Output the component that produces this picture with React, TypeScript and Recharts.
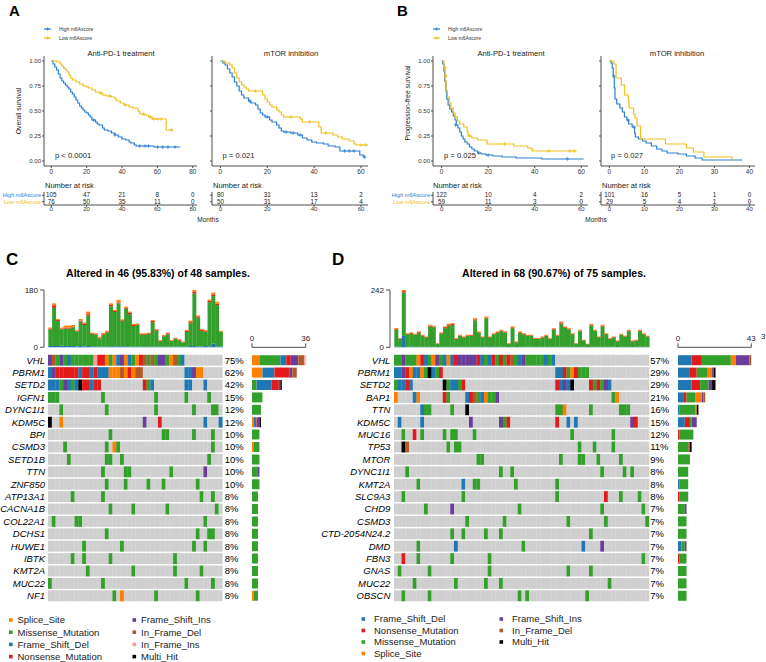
import React from "react";
import { Bar, BarChart, Cell, ComposedChart, Line, Scatter, XAxis, YAxis } from "recharts";

const BLUE = "#2B80D3";
const GOLD = "#EEC01C";
const GRAY = "#CFCFCF";
const AXIS = "#4d4d4d";
const FONT = '"Liberation Sans", Arial, Helvetica, sans-serif';

// variant classes (maftools colours)
const VC: Record<string, { name: string; color: string }> = {
  s: { name: "Splice_Site", color: "#FF7F00" },
  m: { name: "Missense_Mutation", color: "#33A02C" },
  d: { name: "Frame_Shift_Del", color: "#1F78B4" },
  n: { name: "Nonsense_Mutation", color: "#E31A1C" },
  i: { name: "Frame_Shift_Ins", color: "#6A3D9A" },
  f: { name: "In_Frame_Del", color: "#B15928" },
  p: { name: "In_Frame_Ins", color: "#FB9A99" },
  x: { name: "Multi_Hit", color: "#000000" },
};

// ---------- survival curves [month, survival] ----------
const groups = ["High m6Ascore", "Low m6Ascore"];

const osPd1High = [[0,1],[1,0.97],[2,0.94],[3,0.91],[4,0.87],[5,0.83],[6,0.8],[7,0.78],[8,0.76],[9,0.74],[10,0.72],[11,0.69],[12,0.67],[13,0.64],[14,0.61],[15,0.58],[16,0.55],[17,0.53],[18,0.51],[19,0.49],[20,0.48],[21,0.46],[22,0.44],[23,0.41],[25,0.39],[26,0.37],[27,0.36],[29,0.33],[30,0.31],[32,0.3],[34,0.28],[36,0.26],[38,0.24],[40,0.22],[42,0.21],[44,0.19],[45,0.18],[47,0.16],[48,0.15],[58,0.14],[73,0.14]];
const osPd1HighCens = [[24,0.41],[36,0.26],[50,0.15],[53,0.15],[55,0.15],[60,0.14],[63,0.14],[66,0.14],[70,0.14]];
const osPd1Low = [[0,1],[3,0.99],[5,0.97],[6,0.95],[7,0.93],[8,0.91],[9,0.89],[10,0.86],[11,0.83],[12,0.81],[14,0.79],[16,0.77],[18,0.75],[20,0.74],[21,0.73],[23,0.71],[25,0.69],[27,0.68],[29,0.66],[31,0.65],[34,0.64],[36,0.62],[37,0.6],[39,0.58],[41,0.56],[44,0.54],[46,0.53],[49,0.5],[50,0.47],[53,0.46],[55,0.44],[57,0.42],[65,0.31],[69,0.31]];
const osPd1LowCens = [[28,0.68],[33,0.65],[42,0.56],[52,0.47],[56,0.44],[58,0.42],[60,0.42],[62,0.42],[68,0.31]];

const osMtorHigh = [[0,1],[1,0.98],[2,0.96],[3,0.92],[4,0.88],[5,0.84],[6,0.79],[7,0.75],[8,0.7],[9,0.66],[10,0.63],[12,0.6],[13,0.58],[15,0.56],[16,0.52],[17,0.48],[18,0.46],[19,0.44],[21,0.41],[22,0.39],[24,0.36],[25,0.33],[26,0.3],[27,0.29],[30,0.28],[33,0.26],[35,0.23],[37,0.21],[39,0.19],[41,0.18],[44,0.17],[46,0.15],[49,0.14],[51,0.1],[59,0.1],[59.5,0.06],[61,0.04],[62,0.04]];
const osMtorHighCens = [[12.5,0.6],[20,0.44],[28,0.29],[31,0.28],[34,0.26],[53,0.1],[55,0.1],[57,0.1],[61.5,0.04]];
const osMtorLow = [[0,1],[2,0.98],[4,0.96],[5,0.93],[6,0.88],[7,0.83],[8,0.79],[9,0.76],[10,0.74],[11,0.72],[12,0.7],[18,0.66],[19,0.62],[20,0.59],[21,0.56],[22,0.54],[24,0.51],[25,0.49],[26,0.46],[27,0.44],[34,0.42],[35,0.39],[42,0.34],[43,0.28],[48,0.26],[50,0.24],[52,0.22],[55,0.2],[57,0.17],[58,0.16],[63.5,0.16]];
const osMtorLowCens = [[15,0.7],[30,0.44],[38,0.39],[45,0.28],[60,0.16],[62,0.16]];

const pfsPd1High = [[0,1],[0.5,0.97],[1,0.9],[1.3,0.8],[1.8,0.7],[2.2,0.62],[2.8,0.56],[3.5,0.52],[4.3,0.49],[5,0.45],[5.8,0.41],[6.3,0.36],[7,0.33],[7.8,0.29],[8.5,0.25],[9.2,0.22],[10,0.19],[11,0.17],[12,0.14],[13,0.12],[14,0.1],[15.5,0.08],[17,0.07],[19,0.06],[22,0.05],[26,0.04],[32,0.03],[40,0.03],[43,0.02],[61,0.02]];
const pfsPd1HighCens = [[6,0.36],[16,0.08],[20,0.06],[54,0.02]];
const pfsPd1Low = [[0,1],[1,0.93],[1.5,0.8],[1.9,0.7],[2.5,0.64],[3.3,0.58],[4,0.53],[5,0.48],[5.8,0.44],[6.8,0.4],[7.7,0.37],[9.5,0.34],[11,0.29],[11.4,0.25],[13,0.23],[15.5,0.21],[19.5,0.17],[30,0.17],[31,0.15],[37,0.13],[38.5,0.12],[39,0.1],[58,0.1]];
const pfsPd1LowCens = [[1.5,0.93],[2,0.85],[6,0.44],[12,0.25],[27,0.17],[46,0.1],[55,0.1],[57,0.1]];

const pfsMtorHigh = [[0,1],[0.5,0.98],[0.8,0.93],[1.1,0.85],[1.4,0.73],[1.6,0.62],[2.1,0.57],[3,0.53],[3.7,0.49],[4.3,0.44],[5,0.41],[5.5,0.37],[6.5,0.34],[7.2,0.28],[7.4,0.24],[8.3,0.22],[9.5,0.2],[10.5,0.18],[12,0.15],[13.5,0.12],[15,0.1],[16.5,0.08],[19.5,0.07],[22,0.05],[24.5,0.03],[26.5,0.01],[38,0.01]];
const pfsMtorHighCens = [[1.2,0.85],[5.3,0.41],[7,0.34]];
const pfsMtorLow = [[0,1],[1.3,0.97],[1.9,0.83],[3.4,0.76],[4.3,0.66],[5.4,0.6],[5.6,0.53],[6.9,0.47],[7.3,0.43],[7.9,0.35],[8.9,0.22],[16,0.17],[22,0.13],[24,0.09],[27,0.04],[35,0]];
const pfsMtorLowCens: number[][] = [];

// numbers at risk
const osPd1RiskT = [0, 20, 40, 60, 80];
const osPd1RiskHigh = [105, 47, 21, 8, 0];
const osPd1RiskLow = [76, 50, 35, 11, 0];
const osMtorRiskT = [0, 20, 40, 60];
const osMtorRiskHigh = [80, 31, 13, 2];
const osMtorRiskLow = [50, 31, 17, 4];
const pfsPd1RiskT = [0, 20, 40, 60];
const pfsPd1RiskHigh = [122, 10, 4, 2];
const pfsPd1RiskLow = [59, 11, 3, 0];
const pfsMtorRiskT = [0, 10, 20, 30, 40];
const pfsMtorRiskHigh = [101, 16, 5, 1, 0];
const pfsMtorRiskLow = [29, 5, 4, 1, 0];

// ---------- oncoplot C ----------
const cGenes = ["VHL","PBRM1","SETD2","IGFN1","DYNC1I1","KDM5C","BPI","CSMD3","SETD1B","TTN","ZNF850","ATP13A1","CACNA1B","COL22A1","DCHS1","HUWE1","IBTK","KMT2A","MUC22","NF1"];
const cPct = [75,62,42,15,12,12,10,10,10,10,10,8,8,8,8,8,8,8,8,8];
// "start:classes" tokens per gene row
const cRows = [
  "0:ifmimdmmmmmmpnnsmsdisdmsnfmfmiimsfmd",
  "0:dinnnnnndnndndddsssfsnsff 36:ddiss",
  "0:dddmidmdxnndnn 25:nmd 36:dd 41:d",
  "0:mmm 14:m 28:m 36:m 42:m",
  "3:m 15:m 28:m 38:m 43:mm",
  "0:x 3:s 25:i 29:n 41:d 45:d",
  "16:m 30:mm 38:m 43:m",
  "4:m 15:m 17:sm 43:m",
  "5:m 15:mm 19:m 42:m",
  "14:m 20:mm 32:m 41:i",
  "15:m 20:m 26:m 30:m 39:m",
  "6:m 14:m 40:m 43:m",
  "16:m 22:m 31:m 44:m",
  "1:m 7:mm 41:m",
  "15:m 39:m 42:mm",
  "9:m 19:m 38:m 41:m",
  "6:m 9:m 16:m 33:m",
  "10:m 22:m 33:m 40:m",
  "0:m 14:m 36:m 43:m",
  "17:m 19:s 28:m 39:m",
];
const cSamples = 46;
const cMis = [52,120,79,52,55,55,59,47,77,67,96,39,36,26,37,44,126,108,135,80,118,102,65,68,38,37,40,77,50,17,32,39,18,24,19,13,46,72,165,90,48,45,139,149,130,46];
const cDel = [4,4,4,5,4,4,4,3,4,3,4,3,3,2,2,3,3,3,3,3,3,2,2,2,2,2,2,2,2,2,2,2,2,2,2,2,2,4,4,3,3,4,3,12,3,3];
const cNon = [3,8,3,2,3,3,2,2,3,5,4,2,2,2,2,2,4,3,3,2,3,5,3,2,2,2,2,4,2,2,2,3,1,2,2,1,3,3,6,4,3,2,4,5,4,1];
const cSpl = [3,6,3,3,6,6,5,2,5,3,8,2,3,3,4,3,5,3,8,3,4,3,3,3,2,3,2,3,3,2,3,2,2,2,2,2,3,5,5,3,3,3,4,6,6,2];
const cOrder = ["s", "m", "d", "n", "i", "f", "p", "x"];

// ---------- oncoplot D ----------
const dGenes = ["VHL","PBRM1","SETD2","BAP1","TTN","KDM5C","MUC16","TP53","MTOR","DYNC1I1","KMT2A","SLC9A3","CHD9","CSMD3","CTD-2054N24.2","DMD","FBN3","GNAS","MUC22","OBSCN"];
const dPct = [57,29,29,21,16,15,12,11,9,8,8,8,7,7,7,7,7,7,7,7];
const dRows = [
  "0:mmimmmsndmsimdsdniiiiindmdnmnmnfmdimmmmmdmd",
  "0:ddinsddsmxdmn 43:ddnmsnmmm",
  "0:mddnd 13:xmddmn 43:ndidx 52:nmnmid",
  "0:s 5:ds 13:nm 19:dnfmdsmmi 58:ms",
  "7:dmm 15:m 19:x 43:mms 52:m 60:mmm",
  "1:d 7:d 20:i 28:imn 43:n 46:d 48:d 63:in",
  "2:m 5:n 7:m 13:m 15:mm 21:m 47:m 58:m",
  "2:xf 14:m 16:mm 49:m 53:m 58:m",
  "22:mm 44:m 49:mm 54:m 60:m",
  "3:m 28:m 31:m 55:m 61:m 63:m",
  "6:m 18:d 21:mm 32:m 43:m",
  "2:m 18:m 43:m 56:n 60:m 65:m",
  "8:m 15:i 33:m 55:m 66:m",
  "19:m 29:m 46:m 56:m 67:m",
  "15:m 18:m 24:m 28:m 52:m",
  "6:m 16:d 34:m 50:d 55:i",
  "2:n 6:m 15:m 25:m 66:m",
  "1:m 9:m 25:m 46:m 52:m",
  "5:m 16:m 24:m 28:m 57:m",
  "2:m 9:m 33:m 35:m 51:m",
];
const dSamples = 68;
const dMis = [71,33,183,53,55,50,59,47,40,86,83,14,56,79,89,92,33,46,40,46,46,111,60,40,118,40,53,59,66,60,14,79,20,60,53,47,47,33,33,39,46,33,73,46,98,80,73,53,14,66,27,12,90,67,40,86,53,33,39,24,50,43,66,24,26,66,53,43];
const dDel = [3,2,48,2,2,2,2,2,2,2,2,1,2,2,2,2,2,2,2,2,2,3,2,2,4,2,2,2,2,2,1,2,1,2,2,2,2,2,2,2,2,2,2,2,2,2,2,2,1,2,2,1,2,2,2,2,2,2,2,1,2,2,2,1,2,3,2,2];
const dNon = [3,2,6,2,3,2,3,2,2,3,3,1,2,4,3,4,2,2,2,2,3,4,2,2,3,2,2,3,3,2,1,3,2,2,2,2,2,2,2,2,2,2,3,2,5,3,3,2,1,2,1,1,3,2,2,3,2,2,2,2,2,2,3,2,2,2,2,2];
const dSpl = [4,2,5,3,3,3,3,2,2,4,3,2,3,3,5,4,2,3,2,3,2,5,3,2,5,2,3,3,3,3,2,4,2,3,3,2,2,2,2,3,3,2,3,3,4,3,3,3,2,4,2,1,4,3,2,4,3,2,3,2,3,2,3,2,2,3,3,2];
const dOrder = ["d", "n", "m", "s", "i", "f", "x"];

// ---------- helpers ----------
function parseRow(spec: string, n: number) {
  const row: string[] = Array(n).fill(".");
  spec.split(" ").forEach((tok) => {
    const [start, chars] = tok.split(":");
    chars.split("").forEach((c, k) => (row[Number(start) + k] = c));
  });
  return row;
}

const toPts = (a: number[][]) => a.map(([t, s]) => ({ t, s }));

const cross = (color: string) => (p: any) => (
  <path d={`M${p.cx - 1.8},${p.cy}h3.6M${p.cx},${p.cy - 1.8}v3.6`} stroke={color} strokeWidth={0.8} fill="none" />
);

const KM_TOP = 50;
const KM_H = 130;

function KMPlot({ plotLeft, plotRight, domain, ticks, high, low, highCens, lowCens, showY }: any) {
  const left = plotLeft - 26;
  const width = plotRight - left + 6;
  return (
    <div style={{ position: "absolute", left, top: KM_TOP }}>
      <ComposedChart width={width} height={KM_H} margin={{ top: 6, right: 6, bottom: 2, left: 6 }}>
        <XAxis type="number" dataKey="t" domain={domain} ticks={ticks} interval={0} allowDataOverflow height={12}
          tickSize={2} tickMargin={1} stroke={AXIS} tick={{ fontSize: 6.5, fill: "#333" }} />
        <YAxis type="number" dataKey="s" domain={[-0.05, 1.05]} ticks={[0, 0.25, 0.5, 0.75, 1]} interval={0} width={20}
          tickSize={2} tickMargin={1} stroke={AXIS} tick={{ fontSize: 6, fill: "#333" }}
          tickFormatter={(v: number) => (showY ? v.toFixed(2) : "")} />
        <Line data={toPts(high)} dataKey="s" type="stepAfter" stroke={BLUE} strokeWidth={1.2} dot={false} isAnimationActive={false} />
        <Line data={toPts(low)} dataKey="s" type="stepAfter" stroke={GOLD} strokeWidth={1.2} dot={false} isAnimationActive={false} />
        <Scatter data={toPts(highCens)} shape={cross(BLUE)} isAnimationActive={false} />
        <Scatter data={toPts(lowCens)} shape={cross(GOLD)} isAnimationActive={false} />
      </ComposedChart>
    </div>
  );
}

function RiskTable({ plotLeft, plotRight, domain, times, high, low, showLabels }: any) {
  const left = plotLeft - 56;
  const width = plotRight - left + 6;
  const rows = [
    ...times.map((t: number, k: number) => ({ t, r: 0, v: high[k] })),
    ...times.map((t: number, k: number) => ({ t, r: 1, v: low[k] })),
  ];
  const tick = (p: any) => (
    <text x={p.x} y={p.y} dy={2} textAnchor="end" fontSize={5.6} fill={p.payload.value === 0 ? BLUE : GOLD}>
      {showLabels ? groups[p.payload.value] : ""}
    </text>
  );
  const num = (p: any) => (
    <text x={p.cx} y={p.cy} dy={2.2} textAnchor="middle" fontSize={6.3} fill="#222">{p.payload.v}</text>
  );
  return (
    <div style={{ position: "absolute", left, top: 188 }}>
      <ComposedChart width={width} height={27} margin={{ top: 4, right: 6, bottom: 0, left: 6 }}>
        <XAxis type="number" dataKey="t" domain={domain} ticks={times} interval={0} allowDataOverflow height={10}
          tickSize={2} tickMargin={0} stroke={AXIS} tick={{ fontSize: 6, fill: "#333" }} />
        <YAxis type="number" dataKey="r" domain={[-0.5, 1.5]} reversed ticks={[0, 1]} interval={0} width={50}
          tickSize={2} tickMargin={1} stroke={AXIS} tick={tick} />
        <Scatter data={rows} shape={num} isAnimationActive={false} />
      </ComposedChart>
    </div>
  );
}

const TMB_TOP = 290;
const TMB_BOTTOM = 347.3;
const ROW_TOP = 354;
const ROW_BOTTOM = 602;

function TopBars({ axisX, plotRight, max, mis, del, non, spl }: any) {
  const data = mis.map((m: number, j: number) => ({ j, m, d: del[j], n: non[j], s: spl[j] }));
  const yw = 30;
  const left = axisX - yw - 2;
  const top = TMB_TOP - 6;
  const width = plotRight - left + 2;
  const height = TMB_BOTTOM - top + 6;
  return (
    <div style={{ position: "absolute", left, top }}>
      <BarChart width={width} height={height} data={data} margin={{ top: 6, right: 2, bottom: 6, left: 2 }} barCategoryGap={0}>
        <XAxis dataKey="j" hide padding={{ left: 4.3, right: 0 }} />
        <YAxis type="number" domain={[0, max]} ticks={[0, max]} interval={0} width={yw} tickSize={4} tickMargin={2}
          stroke={AXIS} tick={{ fontSize: 8, fill: "#222" }} />
        <Bar dataKey="d" stackId="t" fill={VC.d.color} isAnimationActive={false} />
        <Bar dataKey="m" stackId="t" fill={VC.m.color} isAnimationActive={false} />
        <Bar dataKey="n" stackId="t" fill={VC.n.color} isAnimationActive={false} />
        <Bar dataKey="s" stackId="t" fill={VC.s.color} isAnimationActive={false} />
      </BarChart>
    </div>
  );
}

const CellRect = (p: any) => {
  const y = Math.min(p.y, p.y + p.height);
  const h = Math.abs(p.height);
  return <rect x={p.x} y={y + 0.75} width={p.width} height={Math.max(0, h - 1.5)} fill={p.fill} />;
};

function Grid({ genes, rows, pct, plotLeft, plotRight, labelGap, pctGap }: any) {
  const n = rows[0].length;
  const data = Array.from({ length: n }, (_, j) => {
    const o: any = { j };
    genes.forEach((_g: string, gi: number) => (o["g" + gi] = 1));
    return o;
  });
  const yw = 80;
  const rw = 26;
  const plotW = plotRight - plotLeft;
  const width = yw + plotW + rw;
  const ticks = genes.map((_g: string, gi: number) => gi + 0.5);
  // gene name on the left, percentage of samples on the right of the same row
  const rowTick = (p: any) => {
    const gi = Math.floor(p.payload.value);
    return (
      <g>
        <text x={p.x} y={p.y} dy={3.4} textAnchor="end" fontSize={9.5} fontStyle="italic" fill="#000">{genes[gi]}</text>
        <text x={p.x + labelGap + plotW + pctGap} y={p.y} dy={3.4} textAnchor="start" fontSize={9.5} fill="#000">{pct[gi] + "%"}</text>
      </g>
    );
  };
  return (
    <div style={{ position: "absolute", left: plotLeft - yw, top: ROW_TOP }}>
      <BarChart width={width} height={ROW_BOTTOM - ROW_TOP} data={data} margin={{ top: 0, right: rw, bottom: 0, left: 0 }} barCategoryGap={0}>
        <XAxis dataKey="j" hide />
        <YAxis type="number" domain={[0, genes.length]} reversed ticks={ticks} interval={0} width={yw}
          tickSize={0} tickMargin={labelGap} axisLine={false} tickLine={false} tick={rowTick} />
        {genes.map((g: string, gi: number) => (
          <Bar key={g} dataKey={"g" + gi} stackId="c" isAnimationActive={false} shape={CellRect}>
            {rows[gi].map((c: string, j: number) => (
              <Cell key={j} fill={c === "." ? GRAY : VC[c].color} />
            ))}
          </Bar>
        ))}
      </BarChart>
    </div>
  );
}

function GeneBars({ genes, rows, order, plotLeft, plotRight, max }: any) {
  const data = genes.map((g: string, gi: number) => {
    const o: any = { gene: g };
    order.forEach((c: string) => (o[c] = rows[gi].filter((x: string) => x === c).length));
    return o;
  });
  const left = plotLeft - 6;
  const top = 326;
  const width = plotRight - left + 10;
  return (
    <div style={{ position: "absolute", left, top }}>
      <BarChart layout="vertical" width={width} height={ROW_BOTTOM - top} data={data}
        margin={{ top: 0, right: 10, bottom: 0, left: 6 }} barCategoryGap={1.2}>
        <XAxis type="number" orientation="top" domain={[0, max]} ticks={[0, max]} interval={0} height={TMB_BOTTOM - top}
          tickSize={4} tickMargin={2} stroke={AXIS} tick={{ fontSize: 8, fill: "#222" }} />
        <YAxis type="category" dataKey="gene" hide padding={{ top: ROW_TOP - TMB_BOTTOM, bottom: 0 }} />
        {order.map((c: string) => (
          <Bar key={c} dataKey={c} stackId="r" fill={VC[c].color} isAnimationActive={false} />
        ))}
      </BarChart>
    </div>
  );
}

function KmLegend({ x, y }: { x: number; y: number }) {
  return (
    <g>
      {[BLUE, GOLD].map((col, k) => (
        <g key={k}>
          <line x1={x} x2={x + 7} y1={y + k * 9} y2={y + k * 9} stroke={col} strokeWidth={1.2} />
          <path d={`M${x + 3.5 - 1.6},${y + k * 9}h3.2M${x + 3.5},${y + k * 9 - 1.6}v3.2`} stroke={col} strokeWidth={0.8} />
          <text x={x + 15} y={y + k * 9 + 1.8} fontSize={5} fill="#333">{groups[k]}</text>
        </g>
      ))}
    </g>
  );
}

function VarLegend({ order, colX, textX, rowY }: any) {
  return (
    <g>
      {order.map((c: string, k: number) => {
        const col = Math.floor(k / 4);
        const y = rowY[k % 4];
        return (
          <g key={c}>
            <rect x={colX[col]} y={y - 1.8} width={3.6} height={3.6} fill={VC[c].color} />
            <text x={textX[col]} y={y + 3.3} fontSize={9.5} fill="#222">{VC[c].name}</text>
          </g>
        );
      })}
    </g>
  );
}

export default function App() {
  const cParsed = cRows.map((r) => parseRow(r, cSamples));
  const dParsed = dRows.map((r) => parseRow(r, dSamples));
  return (
    <div style={{ position: "absolute", left: 0, top: 0, width: 766, height: 662, background: "#fff", overflow: "hidden", fontFamily: FONT }}>
      <svg width={766} height={662} style={{ position: "absolute", left: 0, top: 0 }} fontFamily={FONT}>
        <text x={9} y={16} fontSize={15} fontWeight="bold">A</text>
        <text x={397} y={16} fontSize={15} fontWeight="bold">B</text>
        <text x={6} y={265} fontSize={17} fontWeight="bold">C</text>
        <text x={332} y={265} fontSize={17} fontWeight="bold">D</text>

        <KmLegend x={44} y={29} />
        <KmLegend x={433} y={29} />

        <text x={121} y={55.5} fontSize={7.6} textAnchor="middle" fill="#222">Anti-PD-1 treatment</text>
        <text x={291} y={55.5} fontSize={7.6} textAnchor="middle" fill="#222">mTOR inhibition</text>
        <text x={511} y={55.5} fontSize={7.6} textAnchor="middle" fill="#222">Anti-PD-1 treatment</text>
        <text x={677} y={55.5} fontSize={7.6} textAnchor="middle" fill="#222">mTOR inhibition</text>

        <text x={55} y={158} fontSize={7.6} fill="#222">p &lt; 0.0001</text>
        <text x={222.5} y={158} fontSize={7.6} fill="#222">p = 0.021</text>
        <text x={444} y={158} fontSize={7.6} fill="#222">p = 0.025</text>
        <text x={611} y={158} fontSize={7.6} fill="#222">p = 0.027</text>

        <text transform="translate(20.5,111) rotate(-90)" fontSize={6.8} textAnchor="middle" fill="#222">Overall survival</text>
        <text transform="translate(410,103) rotate(-90)" fontSize={6.8} textAnchor="middle" fill="#222">Progression-free survival</text>

        <text x={45} y={187.5} fontSize={7.5} fill="#222">Number at risk</text>
        <text x={213} y={187.5} fontSize={7.5} fill="#222">Number at risk</text>
        <text x={433} y={187.5} fontSize={7.5} fill="#222">Number at risk</text>
        <text x={602} y={187.5} fontSize={7.5} fill="#222">Number at risk</text>
        <text x={208} y={222} fontSize={6.5} textAnchor="middle" fill="#222">Months</text>
        <text x={596} y={222} fontSize={6.5} textAnchor="middle" fill="#222">Months</text>

        <text x={158} y={277} fontSize={10.5} fontWeight="bold" textAnchor="middle">Altered in 46 (95.83%) of 48 samples.</text>
        <text x={554} y={277} fontSize={10.5} fontWeight="bold" textAnchor="middle">Altered in 68 (90.67%) of 75 samples.</text>
        <text x={761} y={339} fontSize={8} fill="#222">3</text>

        <VarLegend order={cOrder} colX={[9, 132.5]} textX={[17.5, 141]} rowY={[620, 632.2, 644.4, 656.6]} />
        <VarLegend order={dOrder} colX={[361.5, 499.5]} textX={[374, 512]} rowY={[619, 630.5, 642, 653.5]} />
      </svg>

      <KMPlot plotLeft={44} plotRight={197} domain={[-4.1, 82.4]} ticks={[0, 20, 40, 60, 80]}
        high={osPd1High} low={osPd1Low} highCens={osPd1HighCens} lowCens={osPd1LowCens} showY />
      <KMPlot plotLeft={212} plotRight={368} domain={[-3.6, 63]} ticks={[0, 20, 40, 60]}
        high={osMtorHigh} low={osMtorLow} highCens={osMtorHighCens} lowCens={osMtorLowCens} showY={false} />
      <KMPlot plotLeft={433} plotRight={588} domain={[-3.7, 62.9]} ticks={[0, 20, 40, 60]}
        high={pfsPd1High} low={pfsPd1Low} highCens={pfsPd1HighCens} lowCens={pfsPd1LowCens} showY />
      <KMPlot plotLeft={601} plotRight={755} domain={[-2.4, 41.6]} ticks={[0, 10, 20, 30, 40]}
        high={pfsMtorHigh} low={pfsMtorLow} highCens={pfsMtorHighCens} lowCens={pfsMtorLowCens} showY={false} />

      <RiskTable plotLeft={44} plotRight={197} domain={[-4.1, 82.4]} times={osPd1RiskT} high={osPd1RiskHigh} low={osPd1RiskLow} showLabels />
      <RiskTable plotLeft={212} plotRight={368} domain={[-3.6, 63]} times={osMtorRiskT} high={osMtorRiskHigh} low={osMtorRiskLow} showLabels={false} />
      <RiskTable plotLeft={433} plotRight={588} domain={[-3.7, 62.9]} times={pfsPd1RiskT} high={pfsPd1RiskHigh} low={pfsPd1RiskLow} showLabels />
      <RiskTable plotLeft={601} plotRight={755} domain={[-2.4, 41.6]} times={pfsMtorRiskT} high={pfsMtorRiskHigh} low={pfsMtorRiskLow} showLabels={false} />

      <TopBars axisX={44} plotRight={222.7} max={180} mis={cMis} del={cDel} non={cNon} spl={cSpl} />
      <Grid genes={cGenes} rows={cParsed} pct={cPct} plotLeft={48.3} plotRight={222.7} labelGap={3} pctGap={2.3} />
      <GeneBars genes={cGenes} rows={cParsed} order={cOrder} plotLeft={252} plotRight={305.7} max={36} />

      <TopBars axisX={389.7} plotRight={649} max={242} mis={dMis} del={dDel} non={dNon} spl={dSpl} />
      <Grid genes={dGenes} rows={dParsed} pct={dPct} plotLeft={394} plotRight={649} labelGap={3.7} pctGap={1.2} />
      <GeneBars genes={dGenes} rows={dParsed} order={dOrder} plotLeft={678} plotRight={751.3} max={43} />
    </div>
  );
}
